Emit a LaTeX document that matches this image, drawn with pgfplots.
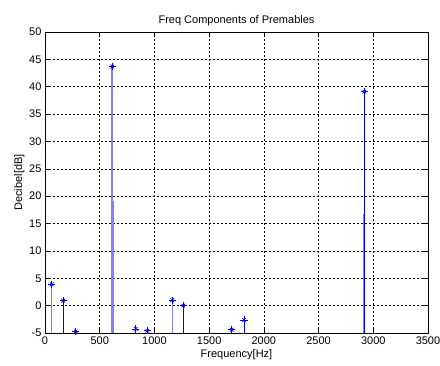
\documentclass[border=0pt]{standalone}
\usepackage{pgfplots}
\pgfplotsset{compat=1.18}
\usepackage{fontspec}
\setmainfont{Liberation Sans}
\definecolor{mblue}{RGB}{0,0,255}
\definecolor{lblue}{RGB}{128,128,255}
\begin{document}
\begin{tikzpicture}
\useasboundingbox (-45pt,-32pt) rectangle (395pt,333pt);
\begin{axis}[
  at={(0,0)}, anchor=south west,
  scale only axis, width=383pt, height=301pt,
  xmin=0, xmax=3500, ymin=-5, ymax=50,
  xtick={0,500,...,3500}, ytick={-5,0,...,50},
  font=\fontsize{11}{13}\selectfont,
  /pgf/number format/assume math mode=true,
  scaled x ticks=false,
  xticklabel style={/pgf/number format/1000 sep={}},
  tick align=inside, major tick length=5pt,
  tick style={black, line width=0.5pt},
  axis line style={black, line width=0.6pt},
  grid=major,
  major grid style={black, dash pattern=on 2pt off 2pt, line width=0.5pt},
  title={Freq Components of Premables},
  title style={yshift=-3pt},
  xlabel={Frequency[Hz]}, ylabel={Decibel[dB]},
  xlabel style={yshift=2pt},
  ylabel style={yshift=-2pt},
  unbounded coords=jump,
]
% light blue stems
\addplot[lblue, line width=1.3pt] coordinates {
 (61,-5) (61,3.9) (nan,nan)
 (1163,-5) (1163,1.0) (nan,nan)
};
\addplot[lblue, line width=2.4pt] coordinates {
 (615,-5) (615,43.7) (nan,nan)
 (622,-5) (622,19.2)
};
\addplot[lblue, line width=1.0pt] coordinates {
 (2910,-5) (2910,16.8)
};
% blue stems
\addplot[mblue, line width=0.7pt] coordinates {
 (167,-5) (167,0.9) (nan,nan)
 (280,-5) (280,-4.7) (nan,nan)
 (829,-5) (829,-4.25) (nan,nan)
 (935,-5) (935,-4.6) (nan,nan)
 (1264,-5) (1264,0.0) (nan,nan)
 (1706,-5) (1706,-4.4) (nan,nan)
 (1819,-5) (1819,-2.6) (nan,nan)
 (2918,-5) (2918,39.1)
};
% markers
\addplot[only marks, mark=+, mark size=3.6pt, mark options={mblue, line width=0.7pt}] coordinates {
 (61,3.9) (167,0.9) (280,-4.7) (615,43.7) (829,-4.25) (935,-4.6)
 (1163,1.0) (1264,0.0) (1706,-4.4) (1819,-2.6) (2918,39.1)
};
\addplot[only marks, mark=x, mark size=2.6pt, mark options={mblue, line width=0.7pt}] coordinates {
 (61,3.9) (167,0.9) (280,-4.7) (615,43.7) (829,-4.25) (935,-4.6)
 (1163,1.0) (1264,0.0) (1706,-4.4) (1819,-2.6) (2918,39.1)
};
\end{axis}
\end{tikzpicture}
\end{document}
